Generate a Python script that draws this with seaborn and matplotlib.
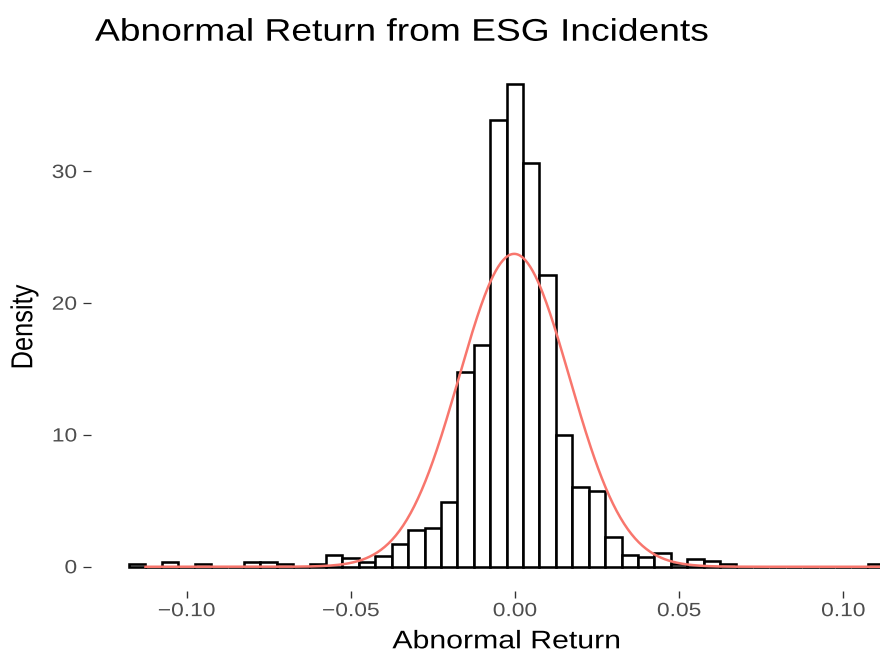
import numpy as np
import matplotlib
matplotlib.use("Agg")
import matplotlib.pyplot as plt
import seaborn as sns
from matplotlib.patheffects import AbstractPathEffect
from matplotlib.transforms import Affine2D

# Histogram of abnormal returns (density scale), bins of width 0.005
bin_centers = [
    -0.115, -0.110, -0.105, -0.100, -0.095, -0.090, -0.085, -0.080, -0.075, -0.070,
    -0.065, -0.060, -0.055, -0.050, -0.045, -0.040, -0.035, -0.030, -0.025, -0.020,
    -0.015, -0.010, -0.005, 0.000, 0.005, 0.010, 0.015, 0.020, 0.025, 0.030,
    0.035, 0.040, 0.045, 0.050, 0.055, 0.060, 0.065, 0.070, 0.075, 0.080,
    0.085, 0.090, 0.095, 0.100, 0.105, 0.110,
]
density = [
    0.18, 0.00, 0.36, 0.00, 0.18, 0.00, 0.00, 0.36, 0.36, 0.18,
    0.00, 0.18, 0.90, 0.63, 0.36, 0.80, 1.70, 2.76, 2.96, 4.88,
    14.75, 16.85, 33.87, 36.65, 30.68, 22.15, 10.02, 6.07, 5.75, 2.23,
    0.89, 0.71, 1.06, 0.18, 0.58, 0.43, 0.18, 0.00, 0.00, 0.00,
    0.00, 0.00, 0.00, 0.00, 0.00, 0.18,
]
bin_width = 0.005

# Fitted normal distribution
curve_mean = -0.0002
curve_sd = 0.0168
return_min = -0.1125
return_max = 0.1125

x_ticks = [-0.10, -0.05, 0.00, 0.05, 0.10]
x_tick_labels = ["\u22120.10", "\u22120.05", "0.00", "0.05", "0.10"]
y_ticks = [0, 10, 20, 30]
y_tick_labels = ["0", "10", "20", "30"]

title = "Abnormal Return from ESG Incidents"
x_title = "Abnormal Return"
y_title = "Density"

TEXT_STRETCH = 1.19


class HStretch(AbstractPathEffect):
    """Widen glyph outlines horizontally about a point of their ink box."""

    def __init__(self, sx, anchor=0.5):
        super().__init__()
        self.sx = sx
        self.anchor = anchor

    def draw_path(self, renderer, gc, tpath, affine, rgbFace=None):
        ext = tpath.get_extents(affine)
        px = ext.x0 + self.anchor * ext.width
        wide = affine + Affine2D().translate(-px, 0).scale(self.sx, 1).translate(px, 0)
        renderer.draw_path(gc, tpath, wide, rgbFace)


plt.rcParams["font.family"] = ["Liberation Sans", "DejaVu Sans"]

W, H = 880, 653
fig = plt.figure(figsize=(W / 100, H / 100), dpi=100)
fig.patch.set_facecolor("white")

panel_left, panel_right = 91.3, 922.0
panel_top, panel_bottom = 59.7, 590.9
ax = fig.add_axes([panel_left / W, (H - panel_bottom) / H,
                   (panel_right - panel_left) / W, (panel_bottom - panel_top) / H])
ax.set_facecolor("white")

lo = min(bin_centers) - bin_width / 2
hi = max(bin_centers) + bin_width / 2
sns.histplot(x=bin_centers, weights=density, binwidth=bin_width, binrange=(lo, hi),
             stat="count", fill=True, color="white", edgecolor="black",
             linewidth=1.85, alpha=1.0, ax=ax)

grid = np.linspace(return_min, return_max, 600)
pdf = np.exp(-0.5 * ((grid - curve_mean) / curve_sd) ** 2) / (curve_sd * np.sqrt(2 * np.pi))
sns.lineplot(x=grid, y=pdf, color="#F8766D", linewidth=1.8, ax=ax)

xpad = 0.05 * (hi - lo)
ax.set_xlim(lo - xpad, hi + xpad)
ymax = max(max(density), pdf.max())
ax.set_ylim(-0.05 * ymax, 1.05 * ymax)

for s in ax.spines.values():
    s.set_visible(False)

ax.set_xticks(x_ticks, x_tick_labels)
ax.set_yticks(y_ticks, y_tick_labels)
ax.tick_params(axis="x", length=4.8, width=1.0, color="#333333",
               labelcolor="#4D4D4D", labelsize=13.8, pad=4.0)
ax.tick_params(axis="y", length=5.8, width=0.9, color="#333333",
               labelcolor="#4D4D4D", labelsize=13.8, pad=4.5)
for tick in ax.xaxis.get_major_ticks():
    tick.label1.set_path_effects([HStretch(TEXT_STRETCH, 0.5)])
for tick in ax.yaxis.get_major_ticks():
    tick.label1.set_path_effects([HStretch(TEXT_STRETCH, 1.0)])

ax.set_xlabel(x_title, fontsize=18.3, color="black")
ax.xaxis.set_label_coords(0.5, (panel_bottom - 648.3) / (panel_bottom - panel_top))
ax.xaxis.label.set_va("baseline")
ax.xaxis.label.set_path_effects([HStretch(TEXT_STRETCH, 0.5)])

ax.set_ylabel(y_title, fontsize=18.3, color="black")
ax.yaxis.set_label_coords((24 - panel_left) / (panel_right - panel_left), 0.497)
ax.yaxis.label.set_va("center")
ax.yaxis.label.set_path_effects([HStretch(TEXT_STRETCH, 0.5)])

fig.text(95 / W, 1 - 40.7 / H, title, fontsize=22.5, color="black",
         ha="left", va="baseline", path_effects=[HStretch(TEXT_STRETCH, 0.0)])

fig.savefig("out.png", dpi=100, facecolor="white")
